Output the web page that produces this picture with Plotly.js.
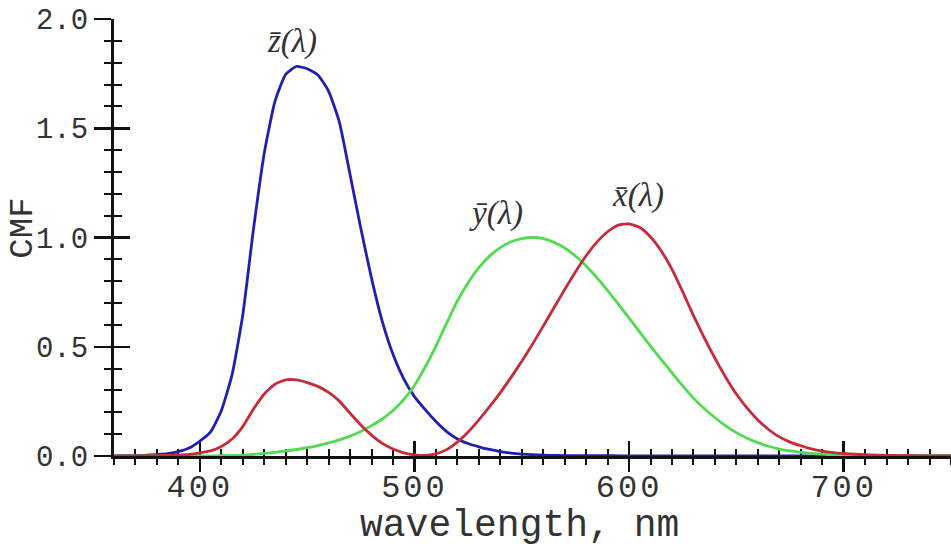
<!DOCTYPE html>
<html>
<head>
<meta charset="utf-8">
<script src="https://cdn.plot.ly/plotly-3.0.1.min.js"></script>
<style>
  html, body { margin: 0; padding: 0; background: #ffffff; }
  #chart { width: 951px; height: 549px; }
  .xtick text { letter-spacing: 3px; }
</style>
</head>
<body>
<div id="chart"></div>
<script>
// CIE 1931 2-degree colour matching functions, 5 nm steps from 360 nm
const wavelength = [
  360, 365, 370, 375, 380, 385, 390, 395, 400, 405, 410, 415, 420, 425, 430, 435,
  440, 445, 450, 455, 460, 465, 470, 475, 480, 485, 490, 495, 500, 505, 510, 515,
  520, 525, 530, 535, 540, 545, 550, 555, 560, 565, 570, 575, 580, 585, 590, 595,
  600, 605, 610, 615, 620, 625, 630, 635, 640, 645, 650, 655, 660, 665, 670, 675,
  680, 685, 690, 695, 700, 705, 710, 715, 720, 725, 730, 735, 740, 745, 750
];
const xBar = [
  0.000130, 0.000232, 0.000415, 0.000742, 0.001368, 0.002236, 0.004243, 0.007650,
  0.014310, 0.023190, 0.043510, 0.077630, 0.134380, 0.214770, 0.283900, 0.328500,
  0.348280, 0.348060, 0.336200, 0.318700, 0.290800, 0.251100, 0.195360, 0.142100,
  0.095640, 0.057950, 0.032010, 0.014700, 0.004900, 0.002400, 0.009300, 0.029100,
  0.063270, 0.109600, 0.165500, 0.225750, 0.290400, 0.359700, 0.433450, 0.512050,
  0.594500, 0.678400, 0.762100, 0.842500, 0.916300, 0.978600, 1.026300, 1.056700,
  1.062200, 1.045600, 1.002600, 0.938400, 0.854450, 0.751400, 0.642400, 0.541900,
  0.447900, 0.360800, 0.283500, 0.218700, 0.164900, 0.121200, 0.087400, 0.063600,
  0.046770, 0.032900, 0.022700, 0.015840, 0.011359, 0.008111, 0.005790, 0.004109,
  0.002899, 0.002049, 0.001440, 0.001000, 0.000690, 0.000476, 0.000332
];
const yBar = [
  0.000004, 0.000007, 0.000012, 0.000022, 0.000039, 0.000064, 0.000120, 0.000217,
  0.000396, 0.000640, 0.001210, 0.002180, 0.004000, 0.007300, 0.011600, 0.016840,
  0.023000, 0.029800, 0.038000, 0.048000, 0.060000, 0.073900, 0.090980, 0.112600,
  0.139020, 0.169300, 0.208020, 0.258600, 0.323000, 0.407300, 0.503000, 0.608200,
  0.710000, 0.793200, 0.862000, 0.914850, 0.954000, 0.980300, 0.994950, 1.000000,
  0.995000, 0.978600, 0.952000, 0.915400, 0.870000, 0.816300, 0.757000, 0.694900,
  0.631000, 0.566800, 0.503000, 0.441200, 0.381000, 0.321000, 0.265000, 0.217000,
  0.175000, 0.138200, 0.107000, 0.081600, 0.061000, 0.044580, 0.032000, 0.023200,
  0.017000, 0.011920, 0.008210, 0.005723, 0.004102, 0.002929, 0.002091, 0.001484,
  0.001047, 0.000740, 0.000520, 0.000361, 0.000249, 0.000172, 0.000120
];
const zBar = [
  0.000606, 0.001086, 0.001946, 0.003486, 0.006450, 0.010550, 0.020050, 0.036210,
  0.067850, 0.110200, 0.207400, 0.371300, 0.645600, 1.039050, 1.385600, 1.622960,
  1.747060, 1.782600, 1.772110, 1.744100, 1.669200, 1.528100, 1.287640, 1.041900,
  0.812950, 0.616200, 0.465180, 0.353300, 0.272000, 0.212300, 0.158200, 0.111700,
  0.078250, 0.057250, 0.042160, 0.029840, 0.020300, 0.013400, 0.008750, 0.005750,
  0.003900, 0.002750, 0.002100, 0.001800, 0.001650, 0.001400, 0.001100, 0.001000,
  0.000800, 0.000600, 0.000340, 0.000240, 0.000190, 0.000100, 0.000050, 0.000030,
  0.000020, 0.000010, 0, 0, 0, 0, 0, 0,
  0, 0, 0, 0, 0, 0, 0, 0,
  0, 0, 0, 0, 0, 0, 0
];

// curve labels: text and anchor point in data units
const curveLabels = ["z\u0304(\u03bb)", "y\u0304(\u03bb)", "x\u0304(\u03bb)"];
const labelX = [443, 538, 604];
const labelY = [1.895, 1.112, 1.19];

const xTitle = "wavelength, nm";
const yTitle = "CMF";

const axisColor = "#111111";
const textColor = "#333333";
const mono = "Liberation Mono, Courier New, monospace";

function curve(yv, color) {
  return {
    x: wavelength, y: yv, xaxis: "x", yaxis: "y",
    type: "scatter", mode: "lines",
    line: { color: color, width: 2.8, shape: "spline", smoothing: 0.5 },
    hoverinfo: "skip"
  };
}

const traces = [
  curve(zBar, "#2020b0"),
  curve(yBar, "#4fdc4f"),
  curve(xBar, "#c82a3a")
];

// shared axis bits; each axis is drawn twice so the ticks cross the axis line
const xCommon = {
  range: [360, 750], tick0: 0, dtick: 100, showgrid: false, zeroline: false,
  showline: true, linecolor: axisColor, linewidth: 3,
  tickcolor: axisColor, tickwidth: 2.5, layer: "below traces", fixedrange: true
};
const yCommon = {
  range: [0, 2], tick0: 0, dtick: 0.5, showgrid: false, zeroline: false,
  showline: true, linecolor: axisColor, linewidth: 3,
  tickcolor: axisColor, tickwidth: 2.5, layer: "below traces", fixedrange: true
};

const layout = {
  width: 951, height: 549,
  margin: { l: 114, r: 0, t: 19, b: 93, pad: 0 },
  paper_bgcolor: "#ffffff", plot_bgcolor: "#ffffff",
  showlegend: false,
  // labelled x axis carries the upward ticks; labels sit just under the line
  xaxis: Object.assign({}, xCommon, {
    ticks: "inside", ticklen: 15,
    minor: { dtick: 10, ticks: "inside", ticklen: 7, tickcolor: axisColor, tickwidth: 2 },
    tickfont: { family: mono, size: 32, color: textColor }, ticklabelstandoff: 0
  }),
  xaxis2: Object.assign({}, xCommon, {
    overlaying: "x", anchor: "y", side: "bottom",
    ticks: "outside", ticklen: 13, showticklabels: false,
    minor: { dtick: 10, ticks: "outside", ticklen: 6, tickcolor: axisColor, tickwidth: 2 }
  }),
  yaxis: Object.assign({}, yCommon, {
    ticks: "outside", ticklen: 17,
    minor: { dtick: 0.1, ticks: "outside", ticklen: 7, tickcolor: axisColor, tickwidth: 2 },
    tickfont: { family: mono, size: 29, color: textColor }, tickformat: ".1f"
  }),
  yaxis2: Object.assign({}, yCommon, {
    overlaying: "y", anchor: "x", side: "left",
    ticks: "inside", ticklen: 16, showticklabels: false,
    minor: { dtick: 0.1, ticks: "inside", ticklen: 8, tickcolor: axisColor, tickwidth: 2 }
  }),
  annotations: [
    {
      text: xTitle, xref: "paper", yref: "paper", x: 0.484, y: -0.16,
      xanchor: "center", yanchor: "middle", showarrow: false,
      font: { family: mono, size: 38, color: textColor }
    },
    {
      text: yTitle, xref: "paper", yref: "paper", x: -0.109, y: 0.522,
      xanchor: "center", yanchor: "middle", showarrow: false, textangle: -90,
      font: { family: mono, size: 34, color: textColor }
    }
  ].concat(curveLabels.map((t, i) => ({
    text: t, xref: "x", yref: "y", x: labelX[i], y: labelY[i],
    xanchor: "center", yanchor: "middle", showarrow: false,
    font: { family: "Liberation Serif, DejaVu Serif, serif", size: 33, style: "italic", color: textColor }
  })))
};

// invisible helper trace so the second axis pair is drawn
traces.push({
  x: [360], y: [0], xaxis: "x2", yaxis: "y2", type: "scatter", mode: "markers",
  marker: { opacity: 0 }, hoverinfo: "skip", showlegend: false
});

Plotly.newPlot("chart", traces, layout, { staticPlot: true, displayModeBar: false });
</script>
</body>
</html>
